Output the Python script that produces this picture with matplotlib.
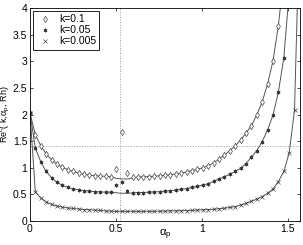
import numpy as np
import matplotlib.pyplot as plt
from matplotlib.lines import Line2D

plt.rcParams['font.family'] = ['Liberation Sans', 'DejaVu Sans']
plt.rcParams['mathtext.default'] = 'regular'

# angle alpha_p of the samples (step pi/100)
alpha = [0.000, 0.031, 0.063, 0.094, 0.126, 0.157, 0.188, 0.220, 0.251, 0.283,
         0.314, 0.346, 0.377, 0.408, 0.440, 0.471, 0.503, 0.534, 0.565, 0.597,
         0.628, 0.660, 0.691, 0.723, 0.754, 0.785, 0.817, 0.848, 0.880, 0.911,
         0.942, 0.974, 1.005, 1.037, 1.068, 1.100, 1.131, 1.162, 1.194, 1.225,
         1.257, 1.288, 1.319, 1.351, 1.382, 1.414, 1.445, 1.477, 1.508, 1.539]

# numerical points (markers)
pts_k01 = [2.03, 1.62, 1.41, 1.26, 1.15, 1.07, 1.01, 0.965, 0.93, 0.90,
           0.88, 0.865, 0.85, 0.845, 0.84, 0.835, 0.98, 1.67, 0.90, 0.83,
           0.83, 0.83, 0.835, 0.84, 0.85, 0.86, 0.87, 0.885, 0.90, 0.92,
           0.945, 0.97, 1.00, 1.04, 1.09, 1.16, 1.24, 1.32, 1.41, 1.52,
           1.65, 1.79, 1.99, 2.24, 2.57, 3.01, 3.67, 4.60, 6.0, 9.0]
pts_k005 = [2.03, 1.37, 1.11, 0.93, 0.81, 0.73, 0.67, 0.63, 0.60, 0.585,
            0.57, 0.56, 0.55, 0.545, 0.54, 0.54, 0.67, 0.74, 0.57, 0.535,
            0.535, 0.535, 0.54, 0.545, 0.55, 0.56, 0.57, 0.58, 0.595, 0.61,
            0.63, 0.65, 0.675, 0.70, 0.745, 0.79, 0.83, 0.88, 0.93, 0.99,
            1.08, 1.20, 1.32, 1.49, 1.71, 1.99, 2.42, 3.07, 4.30, 7.0]
pts_k0005 = [2.03, 0.55, 0.43, 0.36, 0.31, 0.28, 0.26, 0.245, 0.235, 0.225,
             0.215, 0.21, 0.205, 0.20, 0.19, 0.185, 0.18, 0.18, 0.18, 0.18,
             0.18, 0.18, 0.18, 0.18, 0.185, 0.185, 0.19, 0.19, 0.195, 0.195,
             0.20, 0.205, 0.21, 0.215, 0.22, 0.23, 0.24, 0.255, 0.27, 0.30,
             0.33, 0.37, 0.41, 0.46, 0.52, 0.60, 0.74, 0.93, 1.28, 2.08]

# theoretical curves (lines)
line_alpha = alpha + [1.560]
line_k01 = pts_k01[:16] + [0.80, 0.79, 0.79, 0.80] + pts_k01[20:] + [12.0]
line_k005 = pts_k005[:16] + [0.53, 0.52, 0.52, 0.525] + pts_k005[20:] + [10.0]
line_k0005 = pts_k0005 + [4.6]

labels = ['k=0.1', 'k=0.05', 'k=0.005']
markers = ['d', (6, 2, 0), 'x']
msizes = [3.2, 2.8, 2.8]

fig = plt.figure(figsize=(3.03, 2.45), dpi=100)
ax = fig.add_axes([0.099, 0.098, 0.891, 0.869])

ax.axvline(np.pi / 6, color='#999999', ls=':', lw=0.7)
ax.axhline(np.sqrt(2), color='#999999', ls=':', lw=0.7)

for ly, py, m, s in zip([line_k01, line_k005, line_k0005],
                        [pts_k01, pts_k005, pts_k0005], markers, msizes):
    ax.plot(line_alpha, ly, color='#555555', lw=0.7)
    ax.plot(alpha, py, ls='none', marker=m, ms=s, mfc='white' if m == 'd' else '#333333',
            mec='#333333', mew=0.45)

ax.set_xlim(0, np.pi / 2)
ax.set_ylim(0, 4)
ax.set_xticks([0, 0.5, 1, 1.5])
ax.set_xticklabels(['0', '0.5', '1', '1.5'])
ax.set_yticks(np.arange(0, 4.01, 0.5))
ax.set_yticklabels(['0', '0.5', '1', '1.5', '2', '2.5', '3', '3.5', '4'])
ax.tick_params(direction='in', length=2.5, width=0.5, labelsize=7.5, pad=2,
               top=True, right=True)
for sp in ax.spines.values():
    sp.set_linewidth(0.6)

ax.set_xlabel(r'$\alpha_p$', fontsize=8)
ax.xaxis.set_label_coords(0.5, -0.065, transform=ax.transAxes)
ax.xaxis.label.set_va('center')
ax.set_ylabel(r'Re$^c$( k,$\alpha_p$, Rh)', fontsize=6.5)
ax.yaxis.set_label_coords(-0.09, 0.5, transform=ax.transAxes)
ax.yaxis.label.set_va('center')

handles = [Line2D([], [], ls='none', marker=m, ms=s, mfc='white' if m == 'd' else '#333333',
                  mec='#333333', mew=0.45) for m, s in zip(markers, msizes)]
leg = ax.legend(handles, labels, loc='upper left', fontsize=7.5, fancybox=False,
                edgecolor='black', framealpha=1, borderpad=0.3, labelspacing=0.1,
                handlelength=1.6, handletextpad=0.6, borderaxespad=0.3)
leg.get_frame().set_linewidth(0.6)

fig.savefig('out.png', dpi=100)
